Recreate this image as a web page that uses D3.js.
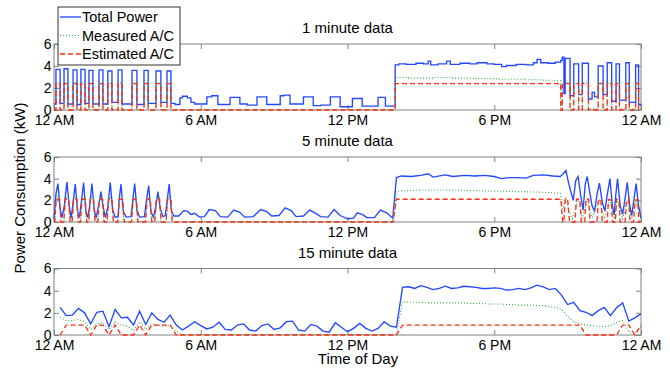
<!DOCTYPE html>
<html>
<head>
<meta charset="utf-8">
<script src="https://cdn.jsdelivr.net/npm/d3@7"></script>
<style>
  body { margin: 0; background: #fff; }
  svg { display: block; font-family: "Liberation Sans", Arial, Helvetica, sans-serif; }
</style>
</head>
<body>
<svg id="chart" width="670" height="368"></svg>
<script>
// ---- chart data (hours of day, kW) ----
const hourTicks = [0, 6, 12, 18, 24];
const hourLabels = ['12 AM', '6 AM', '12 PM', '6 PM', '12 AM'];
const kwTicks = [0, 2, 4, 6];
const panelTitles = ['1 minute data', '5 minute data', '15 minute data'];
const seriesNames = ['Total Power', 'Measured A/C', 'Estimated A/C'];

// 1 minute data: [hour, kW] change points (value holds until the next point)
const min1Total = [
  [0, 0.55], [0.08, 3.7], [0.25, 0.6], [0.41, 3.75], [0.57, 0.55], [0.78, 3.65], [0.94, 0.5],
  [1.1, 3.7], [1.27, 0.6], [1.43, 3.6], [1.59, 0.55], [1.84, 3.65], [2.0, 0.55], [2.2, 3.55],
  [2.37, 0.7], [2.62, 3.65], [2.78, 0.55], [3.19, 3.6], [3.39, 0.5], [3.68, 3.6], [3.85, 0.6],
  [4.17, 3.55], [4.37, 0.7], [4.62, 3.55], [4.78, 0.6], [4.95, 0.5], [5.15, 1.1], [5.25, 1.25],
  [5.45, 1.1], [5.6, 0.7], [5.75, 0.55], [6.25, 1.2], [6.45, 1.3], [6.7, 0.5], [7.2, 1.15],
  [7.6, 0.55], [7.9, 0.45], [8.3, 1.2], [8.7, 0.5], [9.25, 1.3], [9.4, 1.35], [9.65, 0.55],
  [10.2, 1.2], [10.6, 0.4], [10.9, 0.45], [11.3, 1.2], [11.7, 0.3], [12.2, 1.05], [12.6, 0.35],
  [13.25, 1.15], [13.55, 0.35], [13.95, 4.1], [14.1, 4.2], [14.4, 4.15], [14.8, 4.25], [15.1, 4.2],
  [15.3, 4.45], [15.4, 4.1], [15.7, 4.2], [16.05, 4.45], [16.2, 4.15], [16.6, 4.25], [17.0, 4.2],
  [17.3, 4.3], [17.7, 4.2], [18.0, 4.15], [18.3, 3.95], [18.5, 4.05], [18.9, 4.15], [19.3, 4.1],
  [19.6, 4.3], [19.75, 4.6], [19.9, 4.3], [20.2, 4.25], [20.5, 4.35], [20.72, 4.5], [20.78, 4.8],
  [20.85, 1.5], [20.9, 4.7], [21.1, 1.3], [21.25, 4.2], [21.45, 1.4], [21.6, 4.25], [21.85, 1.0],
  [22.0, 1.6], [22.1, 1.2], [22.25, 4.0], [22.45, 1.4], [22.62, 4.3], [22.8, 0.8], [22.98, 4.2],
  [23.12, 0.9], [23.38, 4.3], [23.52, 0.7], [23.78, 4.1], [23.9, 0.5], [24, 0.4]
];
const min1Measured = [
  [0, 0.05], [0.08, 2.45], [0.25, 0.05], [0.41, 2.45], [0.57, 0.05], [0.78, 2.45], [0.94, 0.05],
  [1.1, 2.45], [1.27, 0.05], [1.43, 2.45], [1.59, 0.05], [1.84, 2.45], [2.0, 0.05], [2.2, 2.45],
  [2.37, 0.05], [2.62, 2.45], [2.78, 0.05], [3.19, 2.45], [3.39, 0.05], [3.68, 2.45], [3.85, 0.05],
  [4.17, 2.45], [4.37, 0.05], [4.62, 2.45], [4.78, 0.05], [13.95, 2.95], [14.5, 2.9], [15.5, 2.95],
  [16.3, 2.9], [17.2, 2.85], [18.2, 2.8], [19.2, 2.75], [20.0, 2.7], [20.4, 2.65], [20.72, 0.1],
  [20.78, 2.45], [21.1, 0.1], [21.25, 2.45], [21.45, 0.1], [21.6, 2.45], [21.85, 0.1], [22.25, 2.45],
  [22.45, 0.1], [22.62, 2.45], [22.8, 0.1], [22.98, 2.45], [23.12, 0.1], [23.38, 2.45], [23.52, 0.1],
  [23.78, 2.45], [23.9, 0.1], [24, 0.1]
];
const min1Estimated = [
  [0, 0], [0.08, 2.4], [0.25, 0], [0.41, 2.4], [0.57, 0], [0.78, 2.4], [0.94, 0],
  [1.1, 2.4], [1.27, 0], [1.43, 2.4], [1.59, 0], [1.84, 2.4], [2.0, 0], [2.2, 2.4],
  [2.37, 0], [2.62, 2.4], [2.78, 0], [3.19, 2.4], [3.39, 0], [3.68, 2.4], [3.85, 0],
  [4.17, 2.4], [4.37, 0], [4.62, 2.4], [4.78, 0], [13.95, 2.4], [20.72, 0], [20.78, 2.4],
  [21.1, 0], [21.25, 2.4], [21.45, 0], [21.6, 2.4], [21.85, 0], [22.25, 2.4], [22.45, 0],
  [22.62, 2.4], [22.8, 0], [22.98, 2.4], [23.12, 0], [23.38, 2.4], [23.52, 0], [23.78, 2.4],
  [23.9, 0], [24, 0]
];

// 5 minute data: [hour, kW]
const min5Total = [
  [0, 0.3], [0.08, 2.6], [0.16, 3.55], [0.25, 1.2], [0.33, 0.4], [0.42, 1.5], [0.53, 3.7], [0.62, 1.5],
  [0.7, 0.35], [0.78, 1.8], [0.87, 3.5], [0.96, 1.0], [1.04, 0.4], [1.12, 1.9], [1.21, 3.65], [1.3, 1.0],
  [1.38, 0.4], [1.46, 1.5], [1.55, 3.55], [1.64, 1.2], [1.72, 0.35], [1.83, 1.6], [1.92, 2.8], [2.0, 1.5],
  [2.1, 0.4], [2.2, 1.4], [2.3, 3.65], [2.4, 1.1], [2.5, 0.45], [2.62, 0.5], [2.66, 2.0], [2.74, 3.5],
  [2.83, 1.0], [2.95, 0.45], [3.15, 0.5], [3.22, 2.0], [3.3, 3.55], [3.39, 1.1], [3.5, 0.45], [3.7, 0.5],
  [3.78, 2.0], [3.87, 3.35], [3.96, 1.0], [4.06, 0.45], [4.16, 1.4], [4.25, 2.8], [4.34, 1.3], [4.45, 0.5],
  [4.55, 0.6], [4.63, 2.0], [4.71, 3.5], [4.8, 1.0], [4.9, 0.55], [5.1, 0.55], [5.3, 1.05], [5.45, 1.0],
  [5.6, 0.7], [5.75, 0.8], [5.95, 0.45], [6.15, 0.5], [6.35, 1.15], [6.6, 1.05], [6.8, 0.5], [7.1, 0.45],
  [7.35, 1.1], [7.6, 0.9], [7.8, 0.45], [8.15, 0.5], [8.45, 1.15], [8.7, 0.95], [8.9, 0.55], [9.2, 0.6],
  [9.45, 1.3], [9.7, 1.05], [9.9, 0.5], [10.2, 0.55], [10.45, 1.1], [10.7, 0.8], [10.9, 0.5], [11.2, 0.45],
  [11.45, 1.15], [11.7, 0.6], [12.0, 0.3], [12.25, 0.35], [12.4, 0.85], [12.6, 0.7], [12.8, 0.4], [13.1, 0.4],
  [13.35, 1.1], [13.6, 0.85], [13.85, 0.35], [14.0, 4.1], [14.2, 4.25], [14.6, 4.2], [15.0, 4.3], [15.3, 4.45],
  [15.5, 4.15], [16.0, 4.35], [16.3, 4.2], [16.8, 4.3], [17.2, 4.25], [17.6, 4.3], [18.0, 4.2], [18.3, 4.0],
  [18.6, 4.1], [18.9, 4.1], [19.3, 4.05], [19.6, 4.3], [20.0, 4.35], [20.4, 4.25], [20.7, 4.2], [20.8, 4.4],
  [20.93, 4.75], [21.05, 3.5], [21.23, 2.0], [21.33, 3.8], [21.43, 4.2], [21.53, 2.5], [21.63, 1.1], [21.72, 3.5],
  [21.8, 4.2], [21.9, 2.8], [22.0, 1.5], [22.1, 1.0], [22.2, 2.5], [22.3, 3.6], [22.42, 1.8], [22.52, 1.0],
  [22.62, 2.5], [22.73, 4.0], [22.83, 1.5], [22.9, 0.65], [22.97, 2.5], [23.04, 4.0], [23.15, 1.5], [23.25, 0.7],
  [23.35, 2.2], [23.44, 3.65], [23.54, 1.5], [23.62, 0.6], [23.72, 2.2], [23.8, 3.55], [23.9, 1.5], [24, 0.4]
];
const min5Measured = [
  [0, 0.3], [0.04, 0.1], [0.1, 2.5], [0.2, 2.3], [0.28, 0.05], [0.41, 0.05], [0.48, 2.3], [0.58, 2.2],
  [0.65, 0.05], [0.75, 0.05], [0.82, 2.3], [0.92, 2.2], [0.99, 0.05], [1.09, 0.05], [1.16, 2.3], [1.26, 2.2],
  [1.33, 0.05], [1.43, 0.05], [1.5, 2.3], [1.6, 2.2], [1.67, 0.05], [1.8, 0.05], [1.87, 2.3], [1.97, 2.2],
  [2.04, 0.05], [2.18, 0.05], [2.25, 2.3], [2.35, 2.2], [2.42, 0.05], [2.62, 0.05], [2.69, 2.3], [2.79, 2.2],
  [2.86, 0.05], [3.18, 0.05], [3.25, 2.3], [3.35, 2.2], [3.42, 0.05], [3.75, 0.05], [3.82, 2.3], [3.92, 2.2],
  [3.99, 0.05], [4.13, 0.05], [4.2, 2.3], [4.3, 2.2], [4.37, 0.05], [4.59, 0.05], [4.66, 2.3], [4.76, 2.2],
  [4.83, 0.05], [13.9, 0.05], [14.0, 2.85], [15.0, 2.95], [16.0, 2.95], [17.0, 2.9], [18.0, 2.85], [19.0, 2.8],
  [20.0, 2.75], [20.7, 2.65], [20.8, 1.2], [20.93, 2.3], [21.05, 1.0], [21.2, 0.3], [21.43, 2.2], [21.6, 0.3],
  [21.8, 2.2], [22.0, 0.4], [22.3, 2.0], [22.5, 0.3], [22.73, 2.2], [22.9, 0.3], [23.04, 2.1], [23.25, 0.3],
  [23.44, 2.0], [23.62, 0.3], [23.8, 2.0], [24, 0.3]
];
const min5Estimated = [
  [0, 0], [0.03, 0], [0.09, 2.1], [0.23, 2.1], [0.29, 0], [0.4, 0], [0.46, 2.1], [0.6, 2.1], [0.66, 0],
  [0.74, 0], [0.8, 2.1], [0.94, 2.1], [1.0, 0], [1.08, 0], [1.14, 2.1], [1.28, 2.1], [1.34, 0],
  [1.42, 0], [1.48, 2.1], [1.62, 2.1], [1.68, 0], [1.79, 0], [1.85, 2.1], [1.99, 2.1], [2.05, 0],
  [2.17, 0], [2.23, 2.1], [2.37, 2.1], [2.43, 0], [2.61, 0], [2.67, 2.1], [2.81, 2.1], [2.87, 0],
  [3.17, 0], [3.23, 2.1], [3.37, 2.1], [3.43, 0], [3.74, 0], [3.8, 2.1], [3.94, 2.1], [4.0, 0],
  [4.12, 0], [4.18, 2.1], [4.32, 2.1], [4.38, 0], [4.58, 0], [4.64, 2.1], [4.78, 2.1], [4.84, 0],
  [13.85, 0], [14.0, 2.1], [20.72, 2.1], [20.8, 0], [20.85, 0], [20.9, 2.1], [21.0, 2.1], [21.08, 0],
  [21.3, 0], [21.36, 2.1], [21.5, 2.1], [21.56, 0], [21.7, 0], [21.75, 2.1], [21.86, 2.1], [21.92, 0],
  [22.2, 0], [22.25, 1.9], [22.36, 2.1], [22.42, 0], [22.62, 0], [22.67, 2.1], [22.78, 2.0], [22.84, 0],
  [22.95, 0], [23.0, 2.1], [23.1, 1.9], [23.15, 0], [23.35, 0], [23.4, 1.8], [23.5, 2.1], [23.55, 0],
  [23.7, 0], [23.75, 2.0], [23.86, 2.1], [23.92, 0], [24, 0]
];

// 15 minute data: one value per interval, interval k ends at k*15 min (k = 1..96)
const min15Total = [
  2.5, 1.75, 1.8, 2.4, 2.0, 1.0, 2.05, 2.15, 0.75, 2.3, 1.55, 1.6, 0.9, 2.15, 0.95, 2.0,
  1.4, 1.15, 1.8, 0.9, 0.45, 0.8, 1.2, 0.85, 0.55, 0.7, 1.15, 0.5, 0.45, 0.9, 1.0, 0.45,
  0.35, 0.85, 1.0, 0.5, 0.65, 1.2, 1.25, 0.45, 0.35, 0.95, 0.8, 0.35, 0.25, 1.1, 0.7, 0.3,
  0.6, 1.05, 0.6, 0.35, 0.6, 1.2, 0.8, 0.7, 4.3, 4.35, 4.2, 4.45, 4.3, 4.1, 4.2, 4.4,
  4.2, 4.25, 4.4, 4.35, 4.3, 4.2, 4.2, 4.25, 4.2, 4.05, 4.1, 4.2, 4.1, 4.25, 4.5, 4.35,
  4.1, 4.2, 3.6, 2.75, 2.95, 2.2, 2.05, 1.75, 2.2, 2.5, 1.75, 2.45, 2.9, 1.25, 1.55, 1.9
];
const min15Measured = [
  1.6, 1.3, 1.3, 1.4, 1.2, 0.5, 1.0, 1.1, 0.5, 1.2, 0.9, 0.8, 0.4, 1.2, 0.5, 1.0,
  0.9, 0.8, 0.9, 0.3, 0.05, 0.05, 0.05, 0.05, 0.05, 0.05, 0.05, 0.05, 0.05, 0.05, 0.05, 0.05,
  0.05, 0.05, 0.05, 0.05, 0.05, 0.05, 0.05, 0.05, 0.05, 0.05, 0.05, 0.05, 0.05, 0.05, 0.05, 0.05,
  0.05, 0.05, 0.05, 0.05, 0.05, 0.05, 0.05, 0.05, 3.0, 2.95, 2.95, 2.95, 2.9, 2.9, 2.9, 2.9,
  2.9, 2.9, 2.9, 2.85, 2.85, 2.85, 2.8, 2.8, 2.8, 2.75, 2.75, 2.7, 2.7, 2.7, 2.65, 2.65,
  2.55, 2.5, 2.3, 1.7, 1.2, 1.0, 0.9, 0.85, 0.8, 0.75, 0.85, 1.15, 1.3, 0.3, 0.2, 0.7
];
const min15Estimated = [
  0, 0.9, 0.9, 0.9, 0.9, 0, 0.9, 0.9, 0, 0.9, 0, 0, 0, 0.9, 0, 0.9,
  0.9, 0.9, 0.9, 0, 0, 0, 0, 0, 0, 0, 0, 0, 0, 0, 0, 0,
  0, 0, 0, 0, 0, 0, 0, 0, 0, 0, 0, 0, 0, 0, 0, 0,
  0, 0, 0, 0, 0, 0, 0, 0, 0.9, 0.9, 0.9, 0.9, 0.9, 0.9, 0.9, 0.9,
  0.9, 0.9, 0.9, 0.9, 0.9, 0.9, 0.9, 0.9, 0.9, 0.9, 0.9, 0.9, 0.9, 0.9, 0.9, 0.9,
  0.9, 0.9, 0.9, 0.9, 0.9, 0.9, 0, 0, 0, 0, 0, 0, 0.9, 0.9, 0, 0.9
];

// ---- layout ----
const plotLeft = 54, plotRight = 641;
const panelBoxes = [{top: 44, bottom: 110}, {top: 157, bottom: 222}, {top: 268.5, bottom: 335}];
const lineStyles = [
  {color: '#2448ff', width: 1.35, dash: null},
  {color: '#3aa847', width: 1.1, dash: '1,2'},
  {color: '#ff2b12', width: 1.3, dash: '5,3'}
];
const axisGray = '#808080';

const svg = d3.select('#chart');
const scaleX = d3.scaleLinear().domain([0, 24]).range([plotLeft, plotRight]);

// 15 minute values -> [hour, kW] (sample k sits at k quarter hours)
const toQuarterHours = (vals) => vals.map((v, i) => [(i + 1) / 4, v]);

const panels = [
  {series: [min1Total, min1Measured, min1Estimated], curve: d3.curveStepAfter},
  {series: [min5Total, min5Measured, min5Estimated], curve: d3.curveLinear},
  {series: [toQuarterHours(min15Total), toQuarterHours(min15Measured), toQuarterHours(min15Estimated)], curve: d3.curveLinear}
];

function styleAxis(g, showText) {
  g.select('.domain').remove();
  g.selectAll('.tick line').attr('stroke', axisGray).attr('stroke-width', 1);
  g.attr('font-family', null).attr('font-size', null);
  if (showText)
    g.selectAll('.tick text').attr('fill', '#000').style('font-size', '14px');
  else
    g.selectAll('.tick text').remove(); // top/right axes only carry tick marks
}

panels.forEach((panel, p) => {
  const box = panelBoxes[p];
  const scaleY = d3.scaleLinear().domain([0, 6]).range([box.bottom, box.top]);
  const g = svg.append('g');

  // axes (ticks point inward, MATLAB style)
  g.append('g').attr('transform', 'translate(0,' + box.bottom + ')')
      .call(d3.axisBottom(scaleX).tickValues(hourTicks).tickFormat((d, i) => hourLabels[i])
          .tickSizeInner(-5).tickSizeOuter(0).tickPadding(5))
      .call(a => styleAxis(a, true));
  g.append('g').attr('transform', 'translate(0,' + box.top + ')')
      .call(d3.axisTop(scaleX).tickValues(hourTicks).tickSizeInner(-5).tickSizeOuter(0))
      .call(a => styleAxis(a, false));
  g.append('g').attr('transform', 'translate(' + plotLeft + ',0)')
      .call(d3.axisLeft(scaleY).tickValues(kwTicks).tickFormat(d3.format('d'))
          .tickSizeInner(-5).tickSizeOuter(0).tickPadding(2.5))
      .call(a => styleAxis(a, true));
  g.append('g').attr('transform', 'translate(' + plotRight + ',0)')
      .call(d3.axisRight(scaleY).tickValues(kwTicks).tickSizeInner(-5).tickSizeOuter(0))
      .call(a => styleAxis(a, false));
  g.append('rect')
      .attr('x', plotLeft).attr('y', box.top)
      .attr('width', plotRight - plotLeft).attr('height', box.bottom - box.top)
      .attr('fill', 'none').attr('stroke', axisGray).attr('stroke-width', 1);

  // title
  g.append('text')
      .attr('x', (plotLeft + plotRight) / 2).attr('y', box.top - 11)
      .attr('text-anchor', 'middle').style('font-size', '15px')
      .text(panelTitles[p]);

  // series lines
  const line = d3.line().x(d => scaleX(d[0])).y(d => scaleY(d[1])).curve(panel.curve);
  panel.series.forEach((data, s) => {
    const st = lineStyles[s];
    g.append('path')
        .datum(data)
        .attr('fill', 'none')
        .attr('stroke', st.color)
        .attr('stroke-width', st.width)
        .attr('stroke-dasharray', st.dash)
        .attr('d', line);
  });
});

// axis titles
svg.append('text')
    .attr('transform', 'translate(25,188) rotate(-90)')
    .attr('text-anchor', 'middle').style('font-size', '15px')
    .text('Power Consumption (kW)');
svg.append('text')
    .attr('x', 358).attr('y', 364)
    .attr('text-anchor', 'middle').style('font-size', '15px')
    .text('Time of Day');

// legend
const legend = svg.append('g');
legend.append('rect')
    .attr('x', 58).attr('y', 7).attr('width', 122).attr('height', 58)
    .attr('fill', '#fff').attr('stroke', '#333').attr('stroke-width', 1);
seriesNames.forEach((name, i) => {
  const cy = 17 + i * 18.5;
  const st = lineStyles[i];
  legend.append('line')
      .attr('x1', 60).attr('x2', 81).attr('y1', cy).attr('y2', cy)
      .attr('stroke', st.color).attr('stroke-width', st.width)
      .attr('stroke-dasharray', st.dash);
  legend.append('text')
      .attr('x', 82).attr('y', cy + 5)
      .style('font-size', '14.5px')
      .text(name);
});
</script>
</body>
</html>
